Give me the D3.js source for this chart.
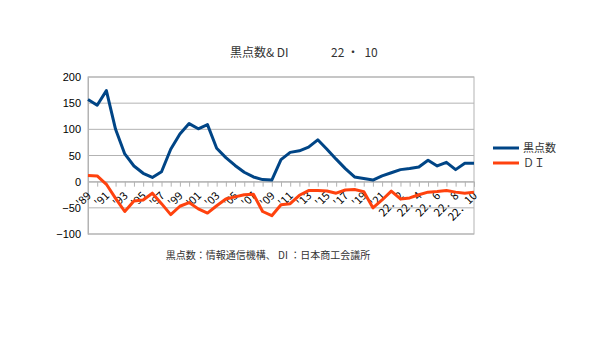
<!DOCTYPE html>
<html>
<head>
<meta charset="utf-8">
<script src="https://cdn.jsdelivr.net/npm/d3@7"></script>
<style>
  body { margin: 0; background: #fff; }
  svg { font-family: "Liberation Sans", "Noto Sans CJK JP", sans-serif; }
  .jp { font-family: "Noto Sans CJK JP", "Liberation Sans", sans-serif; }
</style>
</head>
<body>
<svg id="chart" width="600" height="350"></svg>
<script>
const width = 600;
const height = 350;

// categories: yearly '89 - '21, then monthly 22.1 - 22.10
const categories = ["'89", "'90", "'91", "'92", "'93", "'94", "'95", "'96", "'97", "'98",
  "'99", "'00", "'01", "'02", "'03", "'04", "'05", "'06", "'07", "'08",
  "'09", "'10", "'11", "'12", "'13", "'14", "'15", "'16", "'17", "'18",
  "'19", "'20", "'21",
  "22．1", "22．2", "22．3", "22．4", "22．5", "22．6", "22．7", "22．8", "22．9", "22．10"];

const sunspots = [157, 146, 174, 100, 53, 30, 16, 8, 19, 62,
  91, 111, 101, 109, 64, 46, 31, 18, 9, 4,
  3, 42, 56, 59, 66, 80, 62, 43, 25, 9,
  6, 3, 11,
  17, 23, 25, 28, 41, 30, 37, 23, 35, 35];

const di = [12, 11, -5, -32, -57, -37, -35, -22, -42, -63,
  -47, -40, -52, -60, -46, -33, -29, -25, -24, -57,
  -65, -44, -42, -26, -17, -17, -18, -22, -16, -15,
  -19, -50, -35,
  -18, -33, -31, -25, -20, -19, -17, -20, -22, -20];

const yTicks = [-100, -50, 0, 50, 100, 150, 200];

const seriesNames = ["黒点数", "ＤＩ"];
const seriesColors = ["#004586", "#ff420e"];

const margin = { top: 77, bottom: 116, left: 88, right: 126 };

const svg = d3.select("svg#chart");

const x = d3.scalePoint()
  .domain(categories)
  .range([margin.left, width - margin.right])
  .padding(0);

const y = d3.scaleLinear()
  .domain([-100, 200])
  .range([height - margin.bottom, margin.top]);

/* GRID */
const grid = svg.append("g").attr("id", "grid");
grid.selectAll("line")
  .data(yTicks)
  .enter()
  .append("line")
  .attr("x1", margin.left)
  .attr("x2", width - margin.right)
  .attr("y1", d => y(d))
  .attr("y2", d => y(d))
  .attr("stroke", "#b3b3b3")
  .attr("stroke-width", 1);

grid.append("rect")
  .attr("x", margin.left)
  .attr("y", margin.top)
  .attr("width", width - margin.left - margin.right)
  .attr("height", height - margin.top - margin.bottom)
  .attr("fill", "none")
  .attr("stroke", "#b3b3b3");

/* Y AXIS */
const yAxis = d3.axisLeft(y).tickValues(yTicks).tickSize(0).tickPadding(7);
const yGroup = svg.append("g")
  .attr("transform", translate(margin.left, 0))
  .call(yAxis);
yGroup.select(".domain").attr("stroke", "#b3b3b3");
yGroup.selectAll("text")
  .attr("font-size", 11)
  .attr("fill", "#000")
  .attr("font-family", "Liberation Sans, sans-serif");

/* X AXIS at zero line */
const xAxis = d3.axisBottom(x).tickSize(5).tickFormat("");
const xGroup = svg.append("g")
  .attr("transform", translate(0, y(0)))
  .call(xAxis);
xGroup.select(".domain").attr("stroke", "#b3b3b3");
xGroup.selectAll(".tick line").attr("stroke", "#b3b3b3");

// every other category gets a rotated label
const labelled = categories.filter((d, i) => i % 2 === 0);
svg.append("g").attr("id", "x-labels")
  .selectAll("text")
  .data(labelled)
  .enter()
  .append("text")
  .attr("transform", d => translate(x(d) + 1, y(0) + 12) + " rotate(-45)")
  .attr("text-anchor", "end")
  .attr("dy", "0.35em")
  .attr("font-size", 11)
  .attr("fill", "#000")
  .attr("class", "jp")
  .text(d => d);

/* LINES */
const line = d3.line()
  .x((d, i) => x(categories[i]))
  .y(d => y(d));

[sunspots, di].forEach((values, k) => {
  svg.append("path")
    .datum(values)
    .attr("fill", "none")
    .attr("stroke", seriesColors[k])
    .attr("stroke-width", 3)
    .attr("stroke-linejoin", "round")
    .attr("d", line);
});

/* TITLE */
const title = svg.append("text")
  .attr("class", "jp")
  .attr("y", 57)
  .attr("font-size", 12)
  .attr("fill", "#333")
  .style("white-space", "pre");
title.append("tspan").attr("x", 230).text("黒点数& DI");
title.append("tspan").attr("x", 331).text("22 ・  10");

/* LEGEND */
const legend = svg.append("g").attr("transform", translate(493, 148));
seriesNames.forEach((name, k) => {
  legend.append("line")
    .attr("x1", 0).attr("x2", 26)
    .attr("y1", k * 15).attr("y2", k * 15)
    .attr("stroke", seriesColors[k])
    .attr("stroke-width", 3);
  legend.append("text")
    .attr("class", "jp")
    .attr("x", 30)
    .attr("y", k * 15)
    .attr("dy", "0.35em")
    .attr("font-size", 11)
    .attr("fill", "#333")
    .text(name);
});

/* SOURCE NOTE */
svg.append("text")
  .attr("class", "jp")
  .attr("x", 268)
  .attr("y", 259)
  .attr("text-anchor", "middle")
  .attr("font-size", 10)
  .attr("fill", "#333")
  .text("黒点数：情報通信機構、 DI ：日本商工会議所");

function translate(x, y) {
  return 'translate(' + String(x) + ',' + String(y) + ')';
}
</script>
</body>
</html>
